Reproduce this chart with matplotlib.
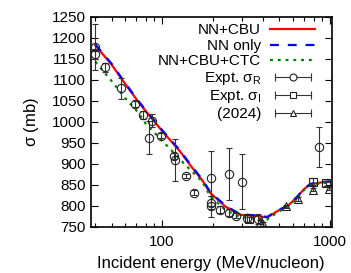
import matplotlib
matplotlib.use('Agg')
import matplotlib.pyplot as plt
from matplotlib.lines import Line2D
from matplotlib.legend_handler import HandlerLine2D, HandlerTuple
from matplotlib.ticker import FixedLocator, NullFormatter

plt.rcParams['font.family'] = ['Liberation Sans', 'DejaVu Sans']
plt.rcParams['mathtext.fontset'] = 'custom'
plt.rcParams['mathtext.rm'] = 'Liberation Sans'
plt.rcParams['mathtext.it'] = 'Liberation Sans'

# ── curves (MeV/nucleon, mb) ─────────────────────────────────────────────
e_curve = [40, 50, 60, 72, 80, 100, 128, 150, 173, 194, 238, 293, 352, 424,
           487, 560, 641, 700, 768, 885, 1000]
nn_cbu = [1182, 1136, 1091, 1048, 1025, 978, 929, 892, 861, 830, 798, 778,
          776, 772, 787, 799, 821, 839, 851, 855, 857]
nn_only = [1184, 1138, 1093, 1050, 1027, 980, 931, 894, 863, 832, 800, 779,
           777, 773, 788, 800, 822, 840, 852, 856, 858]
nn_cbu_ctc = [1143, 1097, 1057, 1022, 995, 955, 910, 882, 858, 822, 790, 772,
              770, 767, 784, 797, 819, 837, 849, 853, 855]

# ── experimental data ────────────────────────────────────────────────────
e_sr = [40, 40, 46, 57, 69, 77, 87, 84, 98, 118, 120, 139, 156, 196, 196, 196,
        222, 249, 249, 275, 300, 321, 372, 862]
sr = [1178, 1162, 1129, 1079, 1042, 1016, 1002, 962, 966, 918, 908, 871, 831,
      865, 807, 798, 790, 875, 783, 776, 857, 770, 768, 940]
sr_err = [55, 12, 10, 24, 8, 10, 15, 40, 6, 8, 50, 5, 5, 65, 15, 24, 8, 61, 8,
          6, 66, 8, 12, 47]

e_si = [330, 790, 950]
si = [768, 857, 853]
si_err = [6, 8, 6]

e_new = [385, 400, 545, 650, 790, 990]
s_new = [760, 756, 798, 816, 838, 840]
s_new_err = [5, 5, 4, 4, 4, 4]

BAR = '#333333'

fig = plt.figure(figsize=(3.51, 2.73), dpi=100)
ax = fig.add_axes([0.258, 0.170, 0.688, 0.769])

l1, = ax.plot(e_curve, nn_cbu, color='#ff0000', lw=1.6, zorder=3)
l2, = ax.plot(e_curve, nn_only, color='#0000ff', lw=1.6, ls=(0, (4, 4)), zorder=4)
l3, = ax.plot(e_curve, nn_cbu_ctc, color='#008000', lw=1.6, ls=(0, (1.3, 2.2)),
              zorder=5)

ebar = dict(color=BAR, ecolor=BAR, elinewidth=0.8, capsize=2.5,
            capthick=0.8, ls='none', mfc='none', mec='#222222', mew=0.8,
            ms=6, zorder=6)
ax.errorbar(e_sr, sr, yerr=sr_err, marker='o', **ebar)
ax.errorbar(e_si, si, yerr=si_err, marker='s', **ebar)
ax.errorbar(e_new, s_new, yerr=s_new_err, marker='^', **ebar)

# legend handles drawn gnuplot-style: |--o--|
handler_map = {tuple: HandlerTuple(ndivide=1, pad=0)}
ebar_handles = []
for m in ['o', 's', '^']:
    cap = Line2D([], [], color=BAR, lw=0.8, marker='|', ms=6, mew=0.8)
    mk = Line2D([], [], ls='none', marker=m, ms=5, mfc='white', mec='#222222',
                mew=0.8)
    handler_map[cap] = HandlerLine2D(numpoints=2)
    handler_map[mk] = HandlerLine2D(numpoints=1)
    ebar_handles.append((cap, mk))

handles = [l1, l2, l3] + ebar_handles
labels = ['NN+CBU', 'NN only', 'NN+CBU+CTC', r'Expt. $\sigma_\mathrm{R}$',
          r'Expt. $\sigma_\mathrm{I}$', '(2024)']

ax.set_xscale('log')
ax.set_xlim(37.5, 1030)
ax.set_ylim(750, 1250)
ax.set_yticks(range(750, 1251, 50))
ax.xaxis.set_major_locator(FixedLocator([100, 1000]))
ax.xaxis.set_minor_locator(FixedLocator([40, 50, 60, 70, 80, 90, 200, 300,
                                         400, 500, 600, 700, 800, 900]))
ax.xaxis.set_minor_formatter(NullFormatter())
ax.set_xticklabels(['100', '1000'])

ax.tick_params(which='both', direction='in', top=True, right=True,
               labelsize=11, width=0.8)
ax.tick_params(which='major', length=5)
ax.tick_params(which='minor', length=3)
ax.tick_params(axis='x', pad=6)
for s in ax.spines.values():
    s.set_linewidth(1.2)

ax.set_xlabel('Incident energy (MeV/nucleon)', fontsize=12, labelpad=5)
ax.set_ylabel(r'$\sigma$ (mb)', fontsize=12, labelpad=8)

ax.legend(handles, labels, handler_map=handler_map, loc='upper right',
          frameon=False, markerfirst=False, fontsize=11, handlelength=2.95,
          labelspacing=0.1, borderaxespad=0.0, borderpad=0.3,
          handletextpad=0.6, bbox_to_anchor=(0.95, 0.99))

fig.savefig('out.png', dpi=100)
